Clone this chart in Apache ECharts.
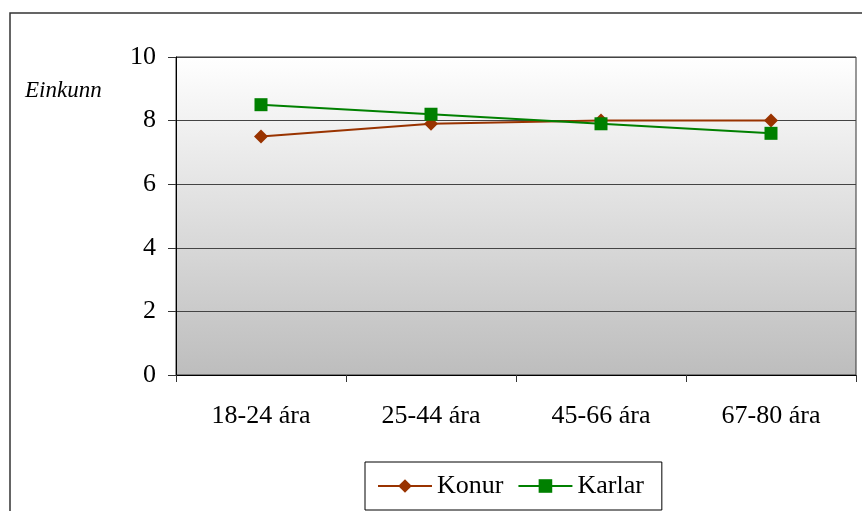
<!DOCTYPE html>
<html>
<head>
<meta charset="utf-8">
<script src="https://cdn.jsdelivr.net/npm/echarts@6/dist/echarts.min.js"></script>
<style>
  html, body { margin: 0; padding: 0; background: #fff; }
  #chart { width: 862px; height: 511px; }
</style>
</head>
<body>
<div id="chart"></div>
<script>
const categories = ['18-24 ára', '25-44 ára', '45-66 ára', '67-80 ára'];
const konur = [7.5, 7.9, 8.0, 8.0];
const karlar = [8.5, 8.2, 7.9, 7.6];

const serif = '"Liberation Serif", "DejaVu Serif", serif';

const chart = echarts.init(document.getElementById('chart'));

const option = {
  animation: false,
  textStyle: { fontFamily: serif },
  graphic: [
    {
      type: 'rect',
      shape: { x: 10, y: 13, width: 900, height: 600 },
      style: { fill: 'none', stroke: '#333', lineWidth: 1.5 },
      z: 0
    },
    {
      type: 'text',
      left: 25,
      top: 79,
      style: {
        text: 'Einkunn',
        font: 'italic 23px ' + serif,
        fill: '#000'
      }
    }
  ],
  legend: {
    data: ['Konur', 'Karlar'],
    left: 365,
    top: 462,
    itemWidth: 54,
    itemHeight: 17,
    itemGap: 14,
    padding: [11, 18, 11, 12],
    borderColor: '#000',
    borderWidth: 1,
    backgroundColor: '#fff',
    textStyle: { fontSize: 26, color: '#000', fontFamily: serif }
  },
  grid: {
    left: 176,
    top: 57,
    right: 6,
    bottom: 136,
    show: true,
    borderColor: '#333',
    borderWidth: 1,
    backgroundColor: new echarts.graphic.LinearGradient(0, 0, 0, 1, [
      { offset: 0, color: '#ffffff' },
      { offset: 1, color: '#bdbdbd' }
    ])
  },
  xAxis: {
    type: 'category',
    data: categories,
    boundaryGap: true,
    axisLine: { show: true, lineStyle: { color: '#000', width: 1 } },
    axisTick: { show: true, length: 7, lineStyle: { color: '#333' } },
    axisLabel: { fontSize: 26, color: '#000', margin: 28, fontFamily: serif },
    splitLine: { show: false }
  },
  yAxis: {
    type: 'value',
    min: 0,
    max: 10,
    interval: 2,
    axisLine: { show: true, lineStyle: { color: '#000', width: 1 } },
    axisTick: { show: true, length: 8, lineStyle: { color: '#333' } },
    axisLabel: { fontSize: 26, color: '#000', margin: 20, fontFamily: serif },
    splitLine: { show: true, lineStyle: { color: '#444', width: 1 } }
  },
  series: [
    {
      name: 'Konur',
      type: 'line',
      data: konur,
      symbol: 'diamond',
      symbolSize: 14,
      lineStyle: { color: '#993300', width: 2 },
      itemStyle: { color: '#993300' },
      z: 3
    },
    {
      name: 'Karlar',
      type: 'line',
      data: karlar,
      symbol: 'rect',
      symbolSize: 13,
      lineStyle: { color: '#008000', width: 2 },
      itemStyle: { color: '#008000' },
      z: 4
    }
  ]
};

chart.setOption(option);
</script>
</body>
</html>
